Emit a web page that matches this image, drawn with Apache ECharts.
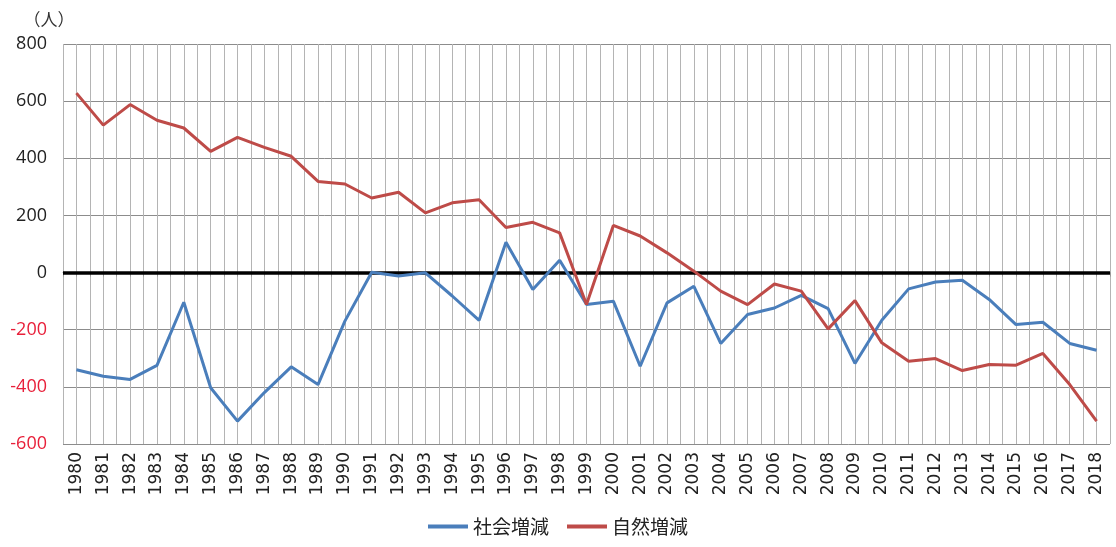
<!DOCTYPE html>
<html>
<head>
<meta charset="utf-8">
<script src="https://cdn.jsdelivr.net/npm/echarts@6/dist/echarts.min.js"></script>
<style>
html,body{margin:0;padding:0;background:#fff;}
#chart{width:1116px;height:547px;}
</style>
</head>
<body>
<div id="chart"></div>
<script>
// 年
const years = [1980,1981,1982,1983,1984,1985,1986,1987,1988,1989,1990,1991,1992,1993,1994,1995,1996,1997,1998,1999,
               2000,2001,2002,2003,2004,2005,2006,2007,2008,2009,2010,2011,2012,2013,2014,2015,2016,2017,2018];
// 社会増減
const socialChange = [-340,-363,-374,-325,-104,-403,-520,-420,-330,-392,-170,1,-12,-1,-82,-167,106,-59,43,-112,
                      -100,-328,-106,-48,-248,-147,-124,-80,-126,-318,-167,-57,-33,-27,-94,-182,-174,-248,-272];
// 自然増減
const naturalChange = [628,516,588,533,506,424,473,438,407,319,310,261,281,209,244,255,158,176,139,-112,
                       165,128,69,5,-65,-112,-40,-65,-197,-98,-246,-310,-301,-343,-322,-324,-283,-392,-520];
const yTicks = [-600,-400,-200,0,200,400,600,800];

const toPairs = (vals) => years.map((y, i) => [y, vals[i]]);

let myChart = echarts.init(document.getElementById('chart'));
let option = {
    backgroundColor: '#fff',
    animation: false,
    grid: {
        left: 63,
        right: 6,
        top: 44,
        bottom: 103,
        containLabel: false
    },
    legend: {
        bottom: 6,
        left: 'center',
        itemWidth: 40,
        itemHeight: 4,
        itemGap: 18,
        icon: 'rect',
        textStyle: {
            fontSize: 19,
            color: '#222',
            fontFamily: 'Noto Sans CJK JP'
        },
        data: ['社会増減', '自然増減']
    },
    xAxis: {
        type: 'value',
        min: 1979.5,
        max: 2018.5,
        interval: 0.5,
        axisLine: {show: true, lineStyle: {color: '#999', width: 1}},
        axisTick: {show: true, length: 4, lineStyle: {color: '#999'}},
        splitLine: {show: true, lineStyle: {color: '#b4b4b4', width: 1}},
        axisLabel: {
            rotate: 90,
            margin: 8,
            fontSize: 17,
            color: '#222',
            fontFamily: 'DejaVu Sans',
            showMinLabel: true,
            showMaxLabel: true,
            formatter: (v) => (Math.abs(v - Math.round(v)) < 1e-6 ? String(Math.round(v)) : '')
        }
    },
    yAxis: {
        type: 'value',
        min: yTicks[0],
        max: yTicks[yTicks.length - 1],
        interval: 200,
        name: '（人）',
        nameLocation: 'end',
        nameGap: 16,
        nameTextStyle: {
            fontSize: 17,
            color: '#333',
            fontFamily: 'Noto Sans CJK JP',
            align: 'center',
            padding: [0, 28, 0, 0]
        },
        axisLine: {show: false},
        axisTick: {show: false},
        splitLine: {show: true, lineStyle: {color: '#8c8c8c', width: 1}},
        axisLabel: {
            fontSize: 18,
            margin: 16,
            fontFamily: 'Open Sans',
            color: (v) => (Number(v) < 0 ? '#e8203a' : '#222')
        }
    },
    series: [
        {
            name: '社会増減',
            type: 'line',
            data: toPairs(socialChange),
            showSymbol: false,
            symbol: 'none',
            lineStyle: {color: '#4a7ebb', width: 3},
            itemStyle: {color: '#4a7ebb'},
            z: 3,
            markLine: {
                silent: true,
                symbol: 'none',
                label: {show: false},
                lineStyle: {color: '#000', width: 3.5, type: 'solid'},
                data: [{yAxis: 0}],
                z: 2
            }
        },
        {
            name: '自然増減',
            type: 'line',
            data: toPairs(naturalChange),
            showSymbol: false,
            symbol: 'none',
            lineStyle: {color: '#be4b48', width: 3},
            itemStyle: {color: '#be4b48'},
            z: 4
        }
    ]
};
myChart.setOption(option);
</script>
</body>
</html>
